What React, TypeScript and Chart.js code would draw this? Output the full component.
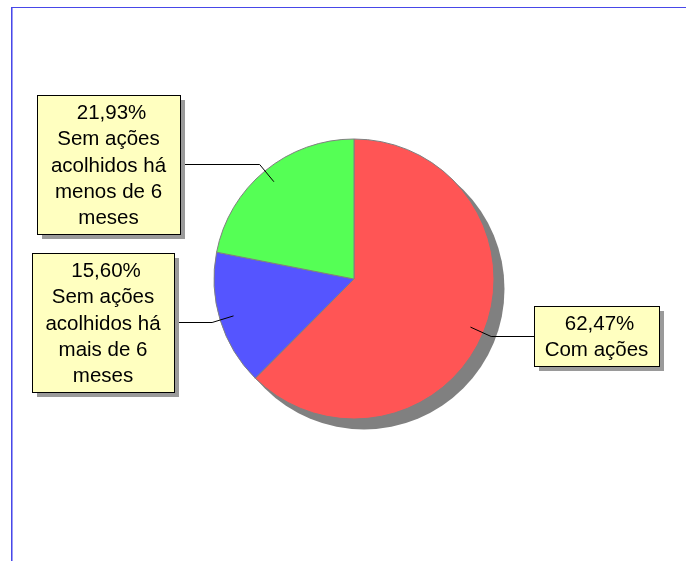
import React, { useEffect, useRef } from "react";
import { Chart, registerables } from "chart.js";

Chart.register(...registerables);

// ---- data ----
const categories = [
  "Com ações",
  "Sem ações acolhidos há mais de 6 meses",
  "Sem ações acolhidos há menos de 6 meses",
];
const values = [62.47, 15.6, 21.93];
const colors = ["#FF5555", "#5555FF", "#55FF55"];
const labelLines = [
  ["Com ações"],
  ["Sem ações", "acolhidos há", "mais de 6", "meses"],
  ["Sem ações", "acolhidos há", "menos de 6", "meses"],
];

// ---- layout ----
const W = 686;
const H = 561;
const boxes = [
  { x: 534, y: 306, w: 125, h: 60 },
  { x: 32, y: 253, w: 142, h: 139 },
  { x: 37, y: 95, w: 143, h: 139 },
];
const FONT = '20.5px "Liberation Sans", Arial, sans-serif';
const LINE_H = 26.4;

const fmt = (v: number) => v.toFixed(2).replace(".", ",") + "%";

const decorPlugin = {
  id: "decor",
  beforeDraw(chart: any) {
    const ctx = chart.ctx;
    ctx.save();
    ctx.fillStyle = "#ffffff";
    ctx.fillRect(0, 0, W, H);
    // frame lines (blue)
    ctx.fillStyle = "#4848e8";
    ctx.fillRect(11, 7, W - 11, 1);
    ctx.fillRect(11, 7, 1, H - 7);
    ctx.fillStyle = "#9c9cf6";
    ctx.fillRect(12, 8, 1, H - 8);
    ctx.restore();
  },
  beforeDatasetsDraw(chart: any) {
    const ctx = chart.ctx;
    const arc = chart.getDatasetMeta(0).data[0];
    if (!arc) return;
    const { x, y, outerRadius } = arc.getProps(["x", "y", "outerRadius"], true);
    ctx.save();
    ctx.fillStyle = "#808080";
    ctx.beginPath();
    ctx.arc(x + 10, y + 10, outerRadius + 0.5, 0, Math.PI * 2);
    ctx.fill();
    ctx.restore();
  },
  afterDatasetsDraw(chart: any) {
    const ctx = chart.ctx;
    const meta = chart.getDatasetMeta(0);
    meta.data.forEach((arc: any, i: number) => {
      const { x, y, startAngle, endAngle, outerRadius } = arc.getProps(
        ["x", "y", "startAngle", "endAngle", "outerRadius"],
        true
      );
      const mid = (startAngle + endAngle) / 2;
      const ax = x + Math.cos(mid) * outerRadius * 0.9;
      const ay = y + Math.sin(mid) * outerRadius * 0.9;
      const ex = x + Math.cos(mid) * outerRadius * 1.06;
      const ey = Math.round(y + Math.sin(mid) * outerRadius * 1.06) + 0.5;
      const b = boxes[i];
      const bx = ex < b.x ? b.x : b.x + b.w;

      ctx.save();
      ctx.strokeStyle = "#000000";
      ctx.lineWidth = 1;
      ctx.beginPath();
      ctx.moveTo(ax, ay);
      ctx.lineTo(ex, ey);
      ctx.lineTo(bx, ey);
      ctx.stroke();

      // box shadow
      ctx.fillStyle = "#9a9a9a";
      ctx.fillRect(b.x + 5, b.y + 5, b.w, b.h);
      // box
      ctx.fillStyle = "#FFFFC0";
      ctx.fillRect(b.x, b.y, b.w, b.h);
      ctx.strokeStyle = "#000000";
      ctx.strokeRect(b.x + 0.5, b.y + 0.5, b.w, b.h);

      // text
      const lines = [fmt(values[i]), ...labelLines[i]];
      ctx.fillStyle = "#000000";
      ctx.font = FONT;
      ctx.textAlign = "center";
      ctx.textBaseline = "middle";
      const cx = b.x + b.w / 2;
      const cy = b.y + b.h / 2 + 1.5;
      const first = cy - ((lines.length - 1) * LINE_H) / 2;
      lines.forEach((t, k) =>
        ctx.fillText(t, cx + (k === 0 ? 3 : 0), first + k * LINE_H)
      );
      ctx.restore();
    });
  },
};

export default function App() {
  const ref = useRef<HTMLCanvasElement | null>(null);
  useEffect(() => {
    if (!ref.current) return;
    const chart = new Chart(ref.current, {
      type: "pie",
      data: {
        labels: categories,
        datasets: [
          {
            data: values,
            backgroundColor: colors,
            borderColor: "#808080",
            borderWidth: 1,
          },
        ],
      },
      options: {
        responsive: false,
        animation: false,
        devicePixelRatio: 1,
        events: [],
        radius: 140,
        layout: { padding: { left: 213, right: 191, top: 138, bottom: 141 } },
        plugins: {
          legend: { display: false },
          tooltip: { enabled: false },
          title: { display: false },
        },
      } as any,
      plugins: [decorPlugin],
    });
    return () => chart.destroy();
  }, []);
  return (
    <div style={{ position: "absolute", left: 0, top: 0, width: W, height: H }}>
      <canvas ref={ref} width={W} height={H} style={{ display: "block" }} />
    </div>
  );
}
